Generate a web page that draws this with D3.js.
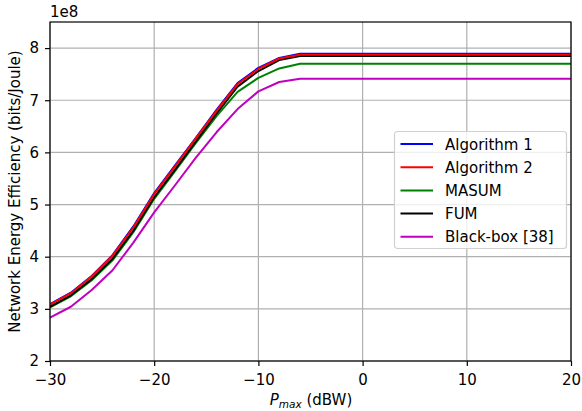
<!DOCTYPE html>
<html>
<head>
<meta charset="utf-8">
<script src="https://cdn.jsdelivr.net/npm/d3@7"></script>
<style>
  body { margin: 0; background: #fff; }
  svg { display: block; font-family: "DejaVu Sans", sans-serif; }
</style>
</head>
<body>
<svg id="chart" width="582" height="411"></svg>
<script>
// Transmit power budget (dBW)
const pmax = [-30, -28, -26, -24, -22, -20, -18, -16, -14, -12, -10, -8, -6,
              -4, -2, 0, 2, 4, 6, 8, 10, 12, 14, 16, 18, 20];

// Network energy efficiency, in units of 1e8 bits/Joule
const algorithm1 = [3.09, 3.31, 3.63, 4.03, 4.58, 5.22, 5.75, 6.28, 6.82, 7.33, 7.62, 7.81, 7.89,
                    7.89, 7.89, 7.89, 7.89, 7.89, 7.89, 7.89, 7.89, 7.89, 7.89, 7.89, 7.89, 7.89];
const algorithm2 = [3.08, 3.30, 3.62, 4.02, 4.56, 5.20, 5.73, 6.27, 6.80, 7.31, 7.60, 7.80, 7.87,
                    7.87, 7.87, 7.87, 7.87, 7.87, 7.87, 7.87, 7.87, 7.87, 7.87, 7.87, 7.87, 7.87];
const masum = [3.03, 3.24, 3.55, 3.93, 4.47, 5.11, 5.64, 6.18, 6.70, 7.16, 7.43, 7.61, 7.70,
               7.70, 7.70, 7.70, 7.70, 7.70, 7.70, 7.70, 7.70, 7.70, 7.70, 7.70, 7.70, 7.70];
const fum = [3.04, 3.26, 3.57, 3.96, 4.50, 5.14, 5.67, 6.21, 6.75, 7.26, 7.56, 7.77, 7.85,
             7.85, 7.85, 7.85, 7.85, 7.85, 7.85, 7.85, 7.85, 7.85, 7.85, 7.85, 7.85, 7.85];
const blackBox = [2.83, 3.04, 3.36, 3.74, 4.27, 4.85, 5.37, 5.90, 6.39, 6.83, 7.17, 7.35, 7.41,
                  7.41, 7.41, 7.41, 7.41, 7.41, 7.41, 7.41, 7.41, 7.41, 7.41, 7.41, 7.41, 7.41];

const xTicks = [-30, -20, -10, 0, 10, 20];
const yTicks = [2, 3, 4, 5, 6, 7, 8];

const series = [
  { name: "Algorithm 1", color: "#0000ff", values: algorithm1 },
  { name: "Algorithm 2", color: "#ff0000", values: algorithm2 },
  { name: "MASUM", color: "#008000", values: masum },
  { name: "FUM", color: "#000000", values: fum },
  { name: "Black-box [38]", color: "#bf00bf", values: blackBox }
];
// drawing order: lower curves first, so the top ones stay visible
const drawOrder = ["Black-box [38]", "MASUM", "Algorithm 1", "FUM", "Algorithm 2"];

const FS = 15;
const svg = d3.select("#chart");
const m = { left: 50, right: 571, top: 22, bottom: 361 };

const x = d3.scaleLinear().domain([-30, 20]).range([m.left, m.right]);
const y = d3.scaleLinear().domain([2, 8.5]).range([m.bottom, m.top]);

// grid
const grid = svg.append("g");
grid.selectAll("line.vx").data(xTicks).join("line")
  .attr("x1", d => x(d)).attr("x2", d => x(d))
  .attr("y1", m.top).attr("y2", m.bottom)
  .attr("stroke", "#b0b0b0").attr("stroke-width", 1.2);
grid.selectAll("line.hy").data(yTicks).join("line")
  .attr("x1", m.left).attr("x2", m.right)
  .attr("y1", d => y(d)).attr("y2", d => y(d))
  .attr("stroke", "#b0b0b0").attr("stroke-width", 1.2);

// curves
const line = d3.line()
  .x((d, i) => x(pmax[i]))
  .y(d => y(d));
svg.append("clipPath").attr("id", "plotclip")
  .append("rect").attr("x", m.left).attr("y", m.top)
  .attr("width", m.right - m.left).attr("height", m.bottom - m.top);
const curves = svg.append("g").attr("clip-path", "url(#plotclip)");
drawOrder.forEach(n => {
  const s = series.find(d => d.name === n);
  curves.append("path")
    .attr("d", line(s.values))
    .attr("fill", "none")
    .attr("stroke", s.color)
    .attr("stroke-width", 2)
    .attr("stroke-linejoin", "round");
});

// axes
const xAxis = svg.append("g").attr("transform", `translate(0,${m.bottom})`)
  .call(d3.axisBottom(x).tickValues(xTicks).tickSize(5).tickPadding(8)
        .tickFormat(d => d < 0 ? "\u2212" + Math.abs(d) : d));
const yAxis = svg.append("g").attr("transform", `translate(${m.left},0)`)
  .call(d3.axisLeft(y).tickValues(yTicks).tickSize(5).tickPadding(6)
        .tickFormat(d3.format("d")));
[xAxis, yAxis].forEach(a => {
  a.select(".domain").remove();
  a.selectAll("text").attr("font-size", FS).attr("fill", "#000")
    .attr("font-family", "DejaVu Sans, sans-serif");
  a.selectAll("line").attr("stroke", "#000").attr("stroke-width", 1.2);
});

// frame
svg.append("rect")
  .attr("x", m.left).attr("y", m.top)
  .attr("width", m.right - m.left).attr("height", m.bottom - m.top)
  .attr("fill", "none").attr("stroke", "#000").attr("stroke-width", 1.2);

// offset text
svg.append("text").attr("x", m.left).attr("y", 17)
  .attr("font-size", FS).text("1e8");

// axis labels
svg.append("text")
  .attr("transform", `translate(20,${(m.top + m.bottom) / 2}) rotate(-90)`)
  .attr("text-anchor", "middle").attr("font-size", FS)
  .text("Network Energy Efficiency (bits/Joule)");

const xl = svg.append("text")
  .attr("x", 311).attr("y", 405)
  .attr("text-anchor", "middle").attr("font-size", FS);
xl.append("tspan").attr("font-style", "italic").text("P");
xl.append("tspan").attr("font-style", "italic").attr("font-size", FS * 0.7)
  .attr("dy", 3).text("max");
xl.append("tspan").attr("dy", -3).text(" (dBW)");

// legend
const lg = svg.append("g").attr("transform", "translate(394.5,131.5)");
lg.append("rect").attr("width", 172).attr("height", 117).attr("rx", 3)
  .attr("fill", "#fff").attr("fill-opacity", 0.8)
  .attr("stroke", "#d0d0d0").attr("stroke-width", 1.2);
series.forEach((s, i) => {
  const yy = 12.5 + i * 23.2;
  lg.append("line").attr("x1", 6).attr("x2", 38.5)
    .attr("y1", yy).attr("y2", yy)
    .attr("stroke", s.color).attr("stroke-width", 2);
  lg.append("text").attr("x", 50.5).attr("y", yy + 5.5)
    .attr("font-size", FS).text(s.name);
});
</script>
</body>
</html>
